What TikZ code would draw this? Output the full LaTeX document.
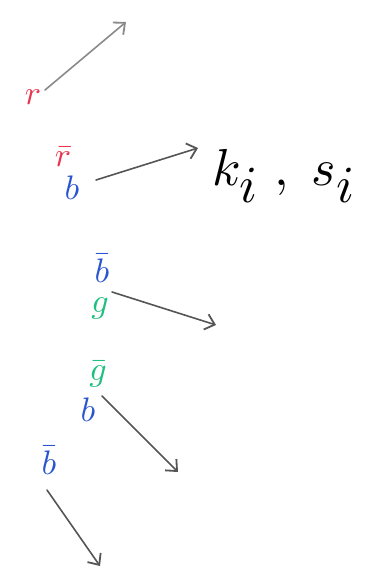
\documentclass[tikz,border=0pt]{standalone}
\usepackage{graphicx}
\usetikzlibrary{arrows.meta}
\definecolor{hred}{HTML}{E8344E}
\definecolor{hblue}{HTML}{2A55D0}
\definecolor{hgreen}{HTML}{1FBF7F}
\definecolor{hgray}{HTML}{555555}
\definecolor{hlight}{HTML}{8A8A8A}
\newcommand{\sml}[1]{\scalebox{3.4}{$#1$}}
\newcommand{\bgm}[1]{\scalebox{5.2}{$#1$}}
\begin{document}
\begin{tikzpicture}[x=1pt,y=-1pt,
  lbl/.style={inner sep=0pt},
  big/.style={inner sep=0pt},
  arr/.style={draw=hgray, line width=1.6pt, line cap=round, -{Straight Barb[length=9pt,width=16pt,line width=1.8pt]}}]
\useasboundingbox (0,0) rectangle (384,585);
% 1
\node[lbl, text=hred] (r) at (33,97) {\sml{r}};
\coordinate (e1) at (126,22);
\coordinate (s1) at (45,90);
\draw[arr, draw=hlight] (s1) -- (e1);
% 2
\node[lbl, text=hred] (rb) at (63,157) {\sml{\bar r}};
\node[lbl, text=hblue] (b2) at (72,188) {\sml{b}};
\node[big, anchor=west] (ks) at (212,176) {\bgm{k_{\textstyle i}\;,\;s_{\textstyle i}}};
\coordinate (s2) at (96,180);
\coordinate (e2) at (198,148);
\draw[arr] (s2) -- (e2);
% 3
\node[lbl, text=hblue] (bb3) at (102,268) {\sml{\bar b}};
\node[lbl, text=hgreen] (g3) at (100,308) {\sml{g}};
\coordinate (s3) at (112,292);
\coordinate (e3) at (216,325);
\draw[arr] (s3) -- (e3);
% 4
\node[lbl, text=hgreen] (gb4) at (98,374) {\sml{\bar g}};
\node[lbl, text=hblue] (b4) at (88,410) {\sml{b}};
\coordinate (s4) at (102,396);
\coordinate (e4) at (178,472);
\draw[arr] (s4) -- (e4);
% 5
\node[lbl, text=hblue] (bb5) at (49,460) {\sml{\bar b}};
\coordinate (s5) at (47,490);
\coordinate (e5) at (100,566);
\draw[arr] (s5) -- (e5);
\end{tikzpicture}
\end{document}
